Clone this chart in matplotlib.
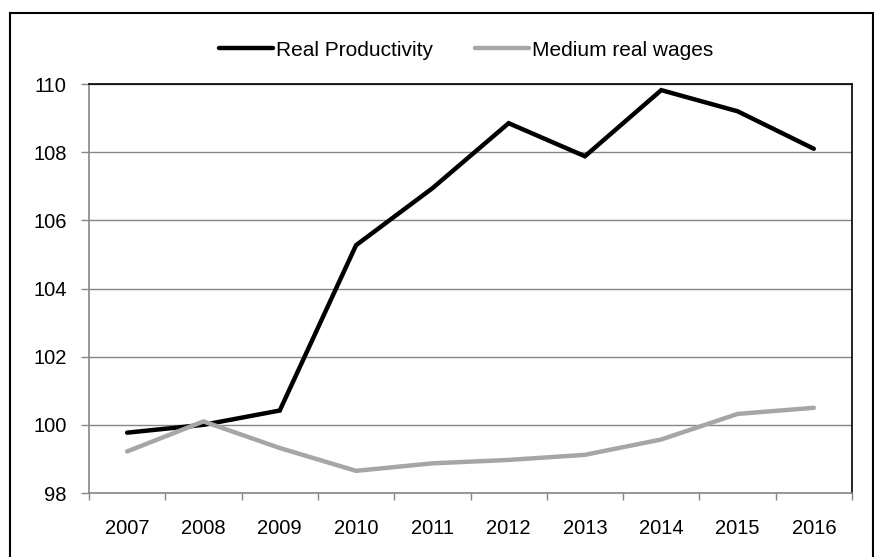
#!/usr/bin/env python3
"""Real productivity vs. medium real wages, 2007-2016."""
import matplotlib

matplotlib.use("Agg")
import matplotlib.pyplot as plt
from matplotlib.patches import Rectangle

years = ["2007", "2008", "2009", "2010", "2011", "2012", "2013", "2014", "2015", "2016"]
productivity = [99.77, 100.0, 100.42, 105.27, 106.94, 108.85, 107.88, 109.82, 109.2, 108.1]
wages = [99.22, 100.1, 99.32, 98.65, 98.87, 98.97, 99.12, 99.57, 100.32, 100.5]
y_ticks = [98, 100, 102, 104, 106, 108, 110]


def main():
    plt.rcParams["font.family"] = ["Liberation Sans", "DejaVu Sans"]
    plt.rcParams["font.size"] = 14.5

    W, H = 874, 557
    fig = plt.figure(figsize=(W / 100, H / 100), dpi=100)
    ax = fig.add_axes([89 / W, 1 - 493 / H, (852 - 89) / W, (493 - 84) / H])

    x = list(range(len(years)))
    ax.plot(x, productivity, color="black", lw=3.2, label="Real Productivity",
            solid_joinstyle="miter", solid_capstyle="round", zorder=3)
    ax.plot(x, wages, color="#a6a6a6", lw=3.2, label="Medium real wages",
            solid_joinstyle="miter", solid_capstyle="round", zorder=3)

    ax.set_xlim(-0.5, len(years) - 0.5)
    ax.set_ylim(98, 110)

    grid = "#868686"
    ax.set_yticks(y_ticks)
    ax.yaxis.grid(True, color=grid, lw=1.0)
    ax.set_axisbelow(True)
    ax.tick_params(axis="y", length=6, width=1, color=grid, pad=10, labelsize=14.5)

    # boundary ticks between categories, labels in the middle
    ax.set_xticks([i - 0.5 for i in range(len(years) + 1)])
    ax.set_xticklabels([])
    ax.set_xticks(x, minor=True)
    ax.set_xticklabels(years, minor=True)
    ax.tick_params(axis="x", which="major", length=5, width=1, color=grid, direction="out")
    ax.tick_params(axis="x", which="minor", length=0, pad=19, labelsize=14.5)

    for side in ("left", "bottom"):
        ax.spines[side].set_color(grid)
        ax.spines[side].set_linewidth(1.2)
    for side in ("top", "right"):
        ax.spines[side].set_color("black")
        ax.spines[side].set_linewidth(1.2)

    fig.legend(loc="center", bbox_to_anchor=(466 / W, 1 - 50 / H), ncol=2,
               frameon=False, fontsize=15, handlelength=2.6, handletextpad=0.15,
               columnspacing=2.0)

    # outer chart frame
    fig.patches.append(Rectangle((10 / W, -0.1), (873 - 10) / W, 1.1 - 13 / H,
                                 transform=fig.transFigure, fill=False,
                                 edgecolor="black", lw=1.5))

    fig.savefig("out.png", dpi=100, facecolor="white")


if __name__ == "__main__":
    main()
